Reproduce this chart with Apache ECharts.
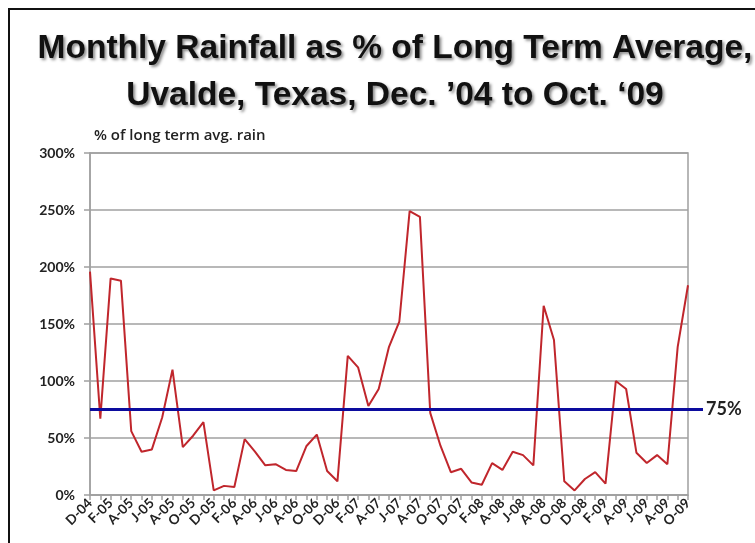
<!DOCTYPE html>
<html>
<head>
<meta charset="utf-8">
<title>Monthly Rainfall, Uvalde, Texas</title>
<script src="https://cdn.jsdelivr.net/npm/echarts@6/dist/echarts.min.js"></script>
<style>
  html, body { margin: 0; padding: 0; background: #ffffff; }
  #chart { width: 755px; height: 543px; }
</style>
</head>
<body>
<div id="chart"></div>
<script>
// Months from Dec 2004 to Oct 2009 (every other one is labelled on the axis)
const months = [
  'D-04',
  'J-05','F-05','M-05','A-05','M-05','J-05','J-05','A-05','S-05','O-05','N-05','D-05',
  'J-06','F-06','M-06','A-06','M-06','J-06','J-06','A-06','S-06','O-06','N-06','D-06',
  'J-07','F-07','M-07','A-07','M-07','J-07','J-07','A-07','S-07','O-07','N-07','D-07',
  'J-08','F-08','M-08','A-08','M-08','J-08','J-08','A-08','S-08','O-08','N-08','D-08',
  'J-09','F-09','M-09','A-09','M-09','J-09','J-09','A-09','S-09','O-09'
];

// Monthly rainfall as % of the long term average
const rainPct = [
  196,
  67, 190, 188, 56, 38, 40, 68, 110, 42, 52, 64, 4,
  8, 7, 49, 38, 26, 27, 22, 21, 43, 53, 21, 12,
  122, 112, 78, 93, 130, 152, 249, 244, 72, 43, 20, 23,
  11, 9, 28, 22, 38, 35, 26, 166, 136, 12, 4, 14,
  20, 10, 100, 93, 37, 28, 35, 27, 130, 184
];

// Reference level drawn across the plot
const thresholdValue = 75;
const thresholdLabel = '75%';

// Y axis range and steps
const yMin = 0, yMax = 300, yStep = 50;

const chart = echarts.init(document.getElementById('chart'), null, { renderer: 'canvas' });

const gridPos = { left: 90, right: 67, top: 153, bottom: 48 };

chart.setOption({
  backgroundColor: '#ffffff',
  animation: false,
  title: {
    text: 'Monthly Rainfall as % of Long Term Average,\nUvalde, Texas, Dec. \u201904 to Oct. \u201809',
    left: 390,
    textAlign: 'center',
    top: 20,
    textStyle: {
      fontFamily: 'Liberation Sans',
      fontWeight: 'bold',
      fontSize: 33.5,
      lineHeight: 47,
      color: '#111111',
      textShadowColor: 'rgba(0,0,0,0.45)',
      textShadowBlur: 3,
      textShadowOffsetX: 2,
      textShadowOffsetY: 2
    }
  },
  graphic: [{
    type: 'rect',
    shape: { x: 9, y: 9, width: 800, height: 600 },
    style: { fill: 'none', stroke: '#111111', lineWidth: 2 },
    silent: true
  }],
  grid: [
    Object.assign({ show: true, borderColor: '#a0a0a0', borderWidth: 1.5, backgroundColor: 'transparent' }, gridPos),
    { left: 90, right: 52, top: 153, bottom: 48 }
  ],
  xAxis: [{
    type: 'category',
    gridIndex: 0,
    data: months,
    boundaryGap: false,
    axisLine: { lineStyle: { color: '#a0a0a0', width: 1.5 } },
    axisTick: { show: true, interval: 0, length: 5, lineStyle: { color: '#a0a0a0', width: 1.5 } },
    axisLabel: {
      interval: 1,
      rotate: 45,
      margin: 6,
      fontFamily: 'Lato',
      fontWeight: 'bold',
      fontSize: 13.5,
      color: '#222222'
    },
    splitLine: { show: false }
  }, {
    type: 'value',
    gridIndex: 1,
    min: 0,
    max: 1,
    show: false
  }],
  yAxis: [{
    type: 'value',
    gridIndex: 0,
    min: yMin,
    max: yMax,
    interval: yStep,
    name: '% of long term avg. rain',
    nameLocation: 'end',
    nameGap: 10,
    nameTextStyle: {
      align: 'left',
      fontFamily: 'Open Sans',
      fontWeight: 600,
      fontSize: 15,
      color: '#222222',
      padding: [0, 0, 0, 4]
    },
    axisLine: { show: true, lineStyle: { color: '#a0a0a0', width: 1.5 } },
    axisTick: { show: true, length: 6, lineStyle: { color: '#a0a0a0', width: 1.5 } },
    axisLabel: {
      formatter: '{value}%',
      margin: 15,
      fontFamily: 'Lato',
      fontWeight: 'bold',
      fontSize: 14,
      color: '#222222'
    },
    splitLine: { show: true, lineStyle: { color: '#a0a0a0', width: 1.5 } }
  }, {
    type: 'value',
    gridIndex: 1,
    min: yMin,
    max: yMax,
    show: false
  }],
  series: [{
    type: 'line',
    name: 'Rainfall',
    xAxisIndex: 0,
    yAxisIndex: 0,
    data: rainPct,
    symbol: 'none',
    z: 3,
    lineStyle: { color: '#c0262c', width: 2 }
  }, {
    type: 'line',
    name: 'Threshold',
    xAxisIndex: 1,
    yAxisIndex: 1,
    data: [[0, thresholdValue], [1, thresholdValue]],
    symbol: 'none',
    z: 4,
    lineStyle: { color: '#0c0c9e', width: 3 },
    endLabel: {
      show: true,
      formatter: thresholdLabel,
      distance: 3,
      fontFamily: 'Lato',
      fontWeight: 'bold',
      fontSize: 18,
      color: '#222222'
    }
  }]
});
</script>
</body>
</html>
